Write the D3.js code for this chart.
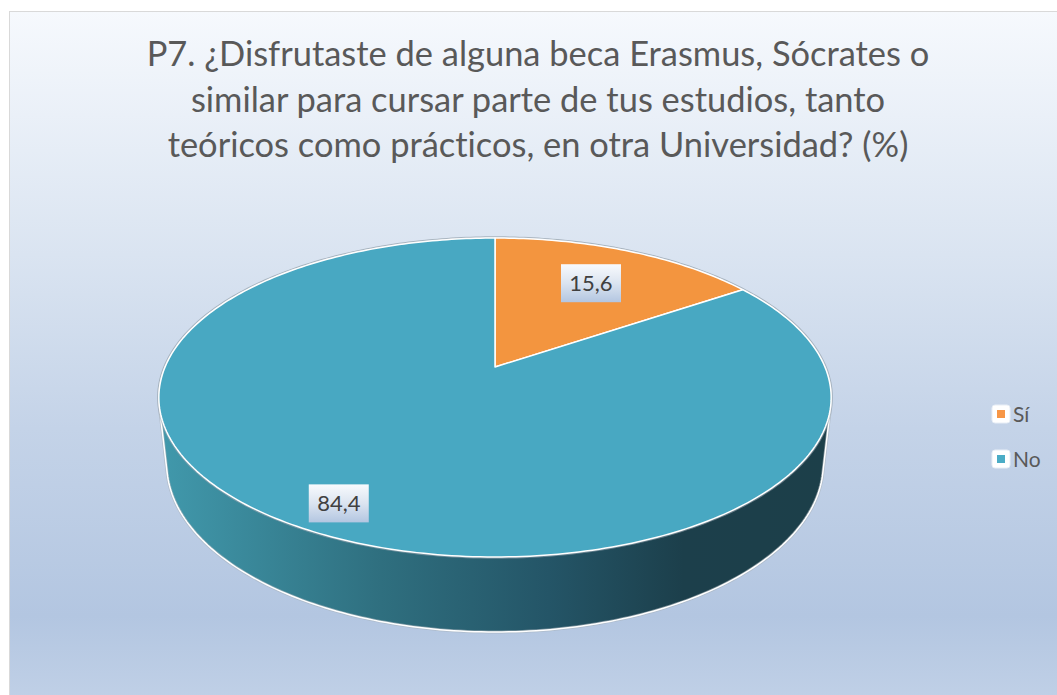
<!DOCTYPE html>
<html>
<head>
<meta charset="utf-8">
<script src="https://cdn.jsdelivr.net/npm/d3@7"></script>
<style>
  html, body { margin: 0; padding: 0; background: #ffffff; }
  svg { display: block; }
  text { font-variant-ligatures: none; font-feature-settings: "liga" 0, "clig" 0; }
</style>
</head>
<body>
<svg id="chart" width="1057" height="695"></svg>
<script>
// ---- data ----
const categories = ["Sí", "No"];
const values = [15.6, 84.4];
const valueLabels = ["15,6", "84,4"];
const titleLines = [
  "P7. ¿Disfrutaste de alguna beca Erasmus, Sócrates o",
  "similar para cursar parte de tus estudios, tanto",
  "teóricos como prácticos, en otra Universidad? (%)"
];

// ---- styles ----
const topColors = ["#F3953F", "#48A8C2"];
const legendColors = ["#F79646", "#4BACC6"];
const FONT = "Lato, 'Open Sans', 'DejaVu Sans', sans-serif";

const W = 1057, H = 695;
const svg = d3.select("#chart");
const defs = svg.append("defs");

// background gradient
const bg = defs.append("linearGradient").attr("id", "bg")
  .attr("x1", 0).attr("y1", 0).attr("x2", 0).attr("y2", 1);
[[0, "#f6f9fd"], [0.35, "#dae4f1"], [0.6, "#c4d3e8"], [0.87, "#b3c6e1"], [1, "#c1d1e7"]]
  .forEach(([o, c]) => bg.append("stop").attr("offset", o).attr("stop-color", c));

svg.append("rect").attr("x", 9.5).attr("y", 11.5).attr("width", W).attr("height", H)
  .attr("fill", "url(#bg)").attr("stroke", "#d9d9d9").attr("stroke-width", 1);

// ---- perspective projection of the pie disk ----
const cx = 495, cy0 = 367, F = 1527, Dist = 4.628;
const cA = 0.885, sA = 0.4657, depth = 0.2287;
function proj(angle, r, y) {
  const u = r * Math.sin(angle), v = r * Math.cos(angle);
  const xc = u, yc = y * cA + v * sA, zc = Dist + v * cA - y * sA;
  return [cx + F * xc / zc, cy0 - F * yc / zc];
}

const pie = d3.pie().sort(null).value(d => d)(values);

// side wall gradient
const sideGrad = defs.append("linearGradient").attr("id", "side")
  .attr("gradientUnits", "userSpaceOnUse").attr("x1", 159).attr("y1", 0).attr("x2", 831).attr("y2", 0);
[[0, "#4199ac"], [0.33, "#2f6f7f"], [0.58, "#245567"], [0.78, "#1c3f4b"], [1, "#1c3f49"]]
  .forEach(([o, c]) => sideGrad.append("stop").attr("offset", o).attr("stop-color", c));

// side: convex hull of top rim and bottom rim
const N = 360;
const rimPts = [];
for (let i = 0; i < N; i++) {
  const a = i / N * 2 * Math.PI;
  rimPts.push(proj(a, 1, 0));
  rimPts.push(proj(a, 1, -depth));
}
const hull = d3.polygonHull(rimPts);
const g = svg.append("g");
g.append("path").attr("d", "M" + hull.map(p => p.join(",")).join("L") + "Z")
  .attr("fill", "url(#side)").attr("stroke", "#a9b2bb").attr("stroke-width", 3).attr("stroke-opacity", 0.6);
g.append("path").attr("d", "M" + hull.map(p => p.join(",")).join("L") + "Z")
  .attr("fill", "none").attr("stroke", "#ffffff").attr("stroke-width", 1.5);

// top face outline shadow
const topRim = d3.range(N + 1).map(i => proj(i / N * 2 * Math.PI, 1, 0));
g.append("path").attr("d", d3.line()(topRim) + "Z")
  .attr("fill", "none").attr("stroke", "#9aa6b2").attr("stroke-width", 3.5).attr("stroke-opacity", 0.6);

// slices top face
const line = d3.line();
pie.forEach((s, i) => {
  const steps = Math.max(2, Math.ceil((s.endAngle - s.startAngle) / (Math.PI / 180)));
  const pts = [proj(0, 0, 0)];
  for (let k = 0; k <= steps; k++) {
    pts.push(proj(s.startAngle + (s.endAngle - s.startAngle) * k / steps, 1, 0));
  }
  g.append("path").attr("d", line(pts) + "Z")
    .attr("fill", topColors[i]).attr("stroke", "#ffffff").attr("stroke-width", 1.5)
    .attr("stroke-linejoin", "round");
});

// labels
const boxGrad = defs.append("linearGradient").attr("id", "box")
  .attr("x1", 0).attr("y1", 0).attr("x2", 0).attr("y2", 1);
[[0, "#f8fafd"], [0.5, "#dbe4f0"], [1, "#b3c6e1"]]
  .forEach(([o, c]) => boxGrad.append("stop").attr("offset", o).attr("stop-color", c));
const labelR = [0.69, 0.86];
pie.forEach((s, i) => {
  const mid = (s.startAngle + s.endAngle) / 2;
  const [lx, ly] = proj(mid, labelR[i], 0);
  g.append("rect").attr("x", lx - 30).attr("y", ly - 19).attr("width", 60).attr("height", 38)
    .attr("fill", "url(#box)");
  g.append("text").attr("x", lx).attr("y", ly + 8).attr("text-anchor", "middle")
    .attr("font-family", FONT).attr("font-size", 22).attr("fill", "#404040")
    .text(valueLabels[i]);
});

// title (split into tspans at "t|i" so the font cannot form a ligature)
const tg = svg.append("g");
const baselines = [66, 111.5, 157];
const tNodes = titleLines.map((t, i) => {
  const txt = tg.append("text").attr("x", 538).attr("y", baselines[i]).attr("text-anchor", "middle")
    .attr("font-family", FONT).attr("font-size", 30).attr("fill", "#595959");
  t.split(/(?<=t)(?=i)/).forEach(part => txt.append("tspan").text(part));
  return txt;
});
const w0 = tNodes[0].node().getComputedTextLength();
const fs = 30 * 783 / w0;
tNodes.forEach(n => n.attr("font-size", fs.toFixed(2)));

// legend
const legY = [414, 459];
categories.forEach((c, i) => {
  const lg = svg.append("g");
  lg.append("rect").attr("x", 992).attr("y", legY[i] - 9).attr("width", 18).attr("height", 18)
    .attr("rx", 3).attr("fill", "#ffffff").attr("stroke", "#e8eef6").attr("stroke-width", 1);
  lg.append("rect").attr("x", 997).attr("y", legY[i] - 4).attr("width", 8).attr("height", 8)
    .attr("fill", legendColors[i]);
  lg.append("text").attr("x", 1013).attr("y", legY[i] + 8)
    .attr("font-family", FONT).attr("font-size", 21).attr("fill", "#595959").text(c);
});
</script>
</body>
</html>
